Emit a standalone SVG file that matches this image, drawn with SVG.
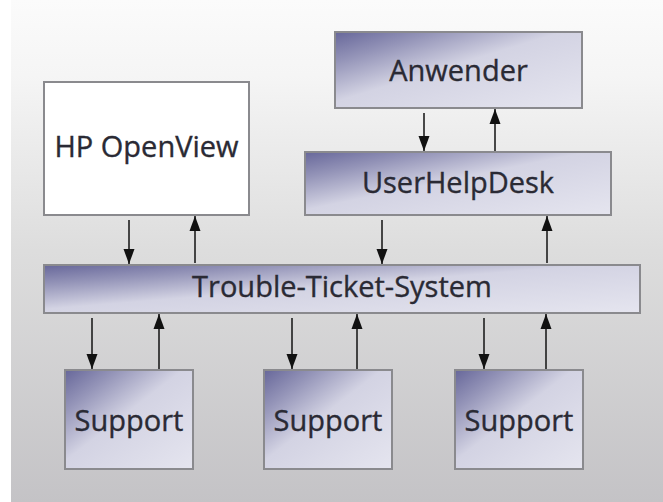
<svg xmlns="http://www.w3.org/2000/svg" width="663" height="502" viewBox="0 0 663 502">
  <defs>
    <linearGradient id="bg" x1="0" y1="0" x2="0" y2="1">
      <stop offset="0" stop-color="#fbfbfb"/>
      <stop offset="0.15" stop-color="#f5f5f5"/>
      <stop offset="0.5" stop-color="#dddddd"/>
      <stop offset="1" stop-color="#c4c3c6"/>
    </linearGradient>
    <linearGradient id="nodefill" x1="0" y1="0" x2="1" y2="1">
      <stop offset="0" stop-color="#67679a"/>
      <stop offset="0.2" stop-color="#9494b8"/>
      <stop offset="0.46" stop-color="#d3d3e3"/>
      <stop offset="1" stop-color="#e5e5ef"/>
    </linearGradient>
    <marker id="arrow" markerUnits="userSpaceOnUse" markerWidth="15" markerHeight="12" refX="15" refY="6" orient="auto">
      <path d="M0,0.5 L15,6 L0,11.5 z" fill="#111"/>
    </marker>
  </defs>
  <style>
    .box { fill: url(#nodefill); stroke: #8a8a8e; stroke-width: 2; }
    .plain { fill: #ffffff; stroke: #8a8a8e; stroke-width: 2; }
    .label { font-family: "Open Sans", "Noto Sans", "DejaVu Sans", sans-serif; font-size: 29px; fill: #2a2a34; stroke: #2a2a34; stroke-width: 0.35; text-anchor: middle; }
    .conn { stroke: #1e1e1e; stroke-width: 1.6; fill: none; marker-end: url(#arrow); }
  </style>

  <rect x="0" y="0" width="663" height="502" fill="url(#bg)"/>
  <rect x="0" y="0" width="11" height="502" fill="#ffffff"/>

  <g id="connectors">
    <!-- HP OpenView <-> TTS -->
    <line class="conn" x1="129" y1="220" x2="129" y2="264"/>
    <line class="conn" x1="195" y1="263" x2="195" y2="216"/>
    <!-- Anwender <-> UserHelpDesk -->
    <line class="conn" x1="424" y1="113" x2="424" y2="151"/>
    <line class="conn" x1="495" y1="151" x2="495" y2="109"/>
    <!-- UserHelpDesk <-> TTS -->
    <line class="conn" x1="382" y1="220" x2="382" y2="264"/>
    <line class="conn" x1="547" y1="263" x2="547" y2="216"/>
    <!-- TTS <-> Support 1 -->
    <line class="conn" x1="92" y1="318" x2="92" y2="369"/>
    <line class="conn" x1="159" y1="369" x2="159" y2="314"/>
    <!-- TTS <-> Support 2 -->
    <line class="conn" x1="292" y1="318" x2="292" y2="369"/>
    <line class="conn" x1="357" y1="369" x2="357" y2="314"/>
    <!-- TTS <-> Support 3 -->
    <line class="conn" x1="484" y1="318" x2="484" y2="369"/>
    <line class="conn" x1="546" y1="369" x2="546" y2="314"/>
  </g>

  <g id="anwender">
    <rect class="box" x="335" y="32" width="247" height="76"/>
    <text class="label" x="458.5" y="81">Anwender</text>
  </g>
  <g id="hp-openview">
    <rect class="plain" x="44" y="82" width="205" height="133"/>
    <text class="label" x="146.5" y="157">HP OpenView</text>
  </g>
  <g id="userhelpdesk">
    <rect class="box" x="305" y="152" width="306" height="63"/>
    <text class="label" x="458" y="193">UserHelpDesk</text>
  </g>
  <g id="trouble-ticket-system">
    <rect class="box" x="44" y="265" width="596" height="48"/>
    <text class="label" x="342" y="297">Trouble-Ticket-System</text>
  </g>
  <g id="support-1">
    <rect class="box" x="65" y="370" width="128" height="99"/>
    <text class="label" x="129" y="431">Support</text>
  </g>
  <g id="support-2">
    <rect class="box" x="264" y="370" width="128" height="99"/>
    <text class="label" x="328" y="431">Support</text>
  </g>
  <g id="support-3">
    <rect class="box" x="455" y="370" width="128" height="99"/>
    <text class="label" x="519" y="431">Support</text>
  </g>
</svg>
